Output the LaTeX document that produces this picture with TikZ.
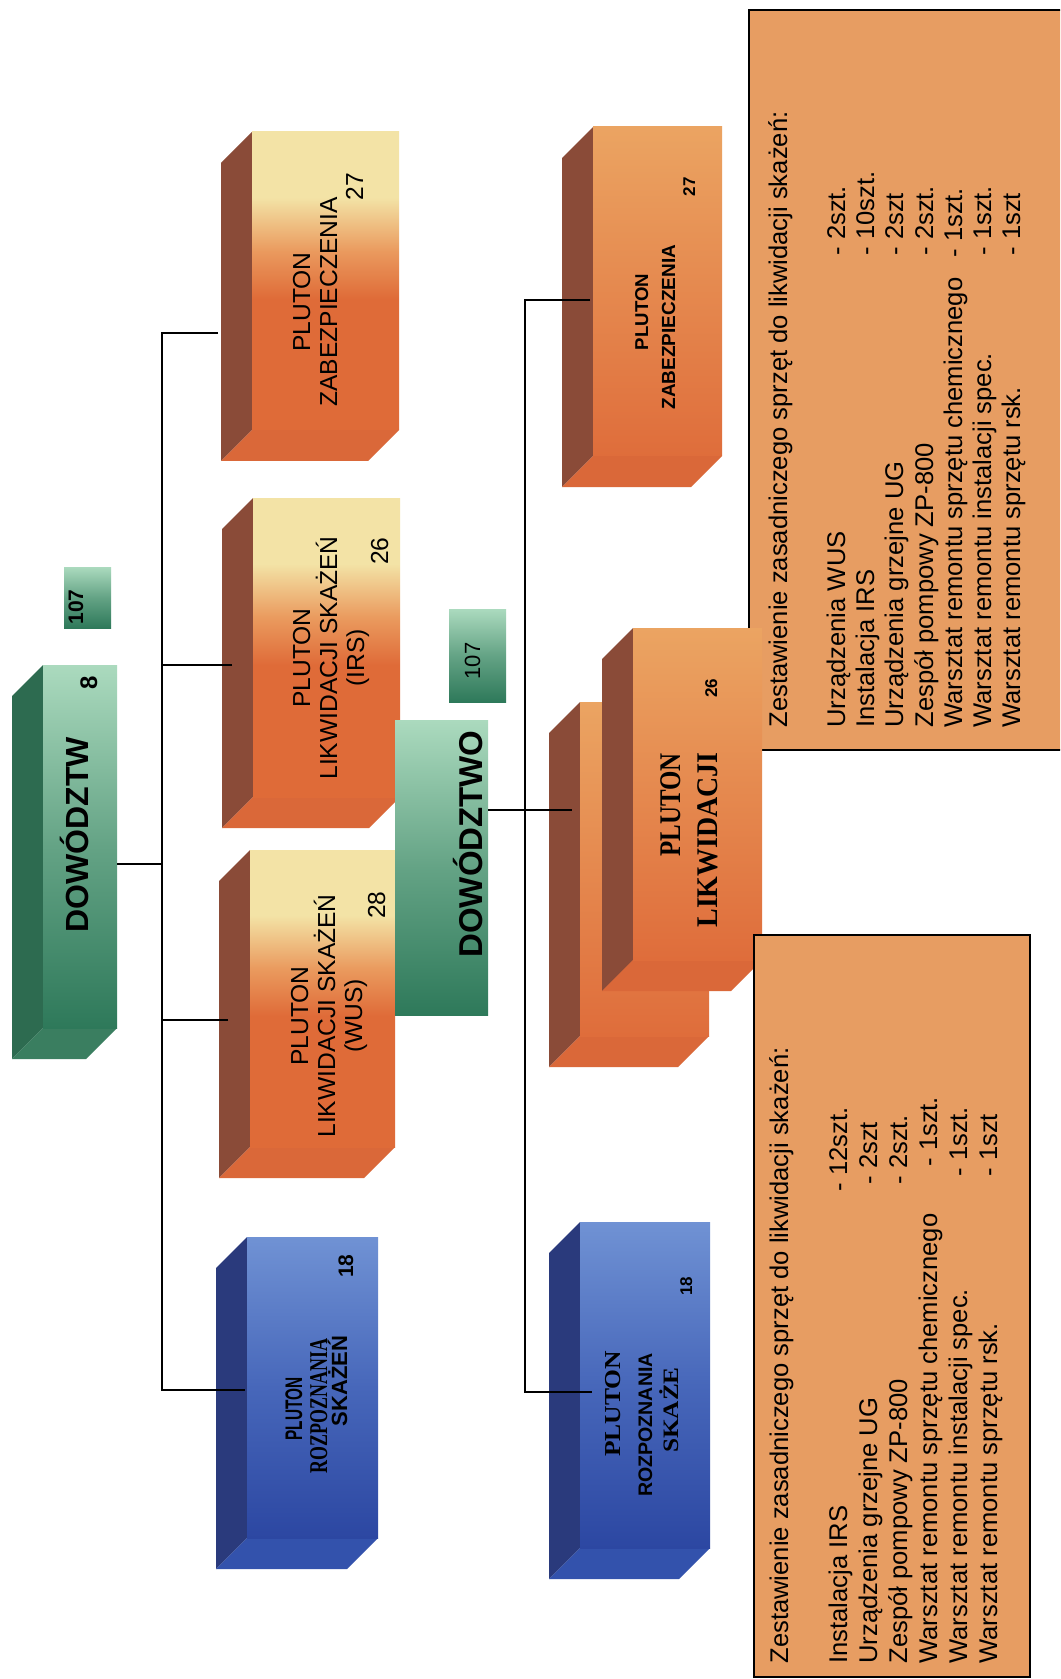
\documentclass[tikz,border=0pt]{standalone}
\usepackage{fontspec}
\usepackage{graphicx}
\setmainfont{Liberation Sans}
\newfontfamily\tms{Liberation Serif}
\usetikzlibrary{fit}
\definecolor{orL}{HTML}{F3E3A6}
\definecolor{orM}{HTML}{EA9A5E}
\definecolor{orD}{HTML}{DF6B38}
\definecolor{or2L}{HTML}{EBA462}
\definecolor{or2D}{HTML}{DF6D3B}
\definecolor{brownside}{HTML}{8A4B38}
\definecolor{orbot}{HTML}{DA6839}
\definecolor{grL}{HTML}{ABDABE}
\definecolor{grM}{HTML}{64A385}
\definecolor{grD}{HTML}{2E795A}
\definecolor{grside}{HTML}{2D6B50}
\definecolor{grbot}{HTML}{3A7E60}
\definecolor{blL}{HTML}{7092D4}
\definecolor{blM}{HTML}{4767BA}
\definecolor{blD}{HTML}{2C47A2}
\definecolor{blside}{HTML}{2A3A7C}
\definecolor{blbot}{HTML}{3352AC}
\definecolor{infofill}{HTML}{E79D62}
\pgfdeclareverticalshading{paleor}{100bp}{color(0bp)=(orD); color(25bp)=(orD); color(47bp)=(orD); color(55bp)=(orM); color(64bp)=(orL); color(75bp)=(orL); color(100bp)=(orL)}
\newcommand{\fs}[1]{\fontsize{#1}{#1}\selectfont}
% #1 name, #2 x1, #3 y1, #4 x2, #5 y2, #6 front style, #7 side colour, #8 bottom colour
\newcommand{\cubebox}[8]{%
  \fill[#7] (#2,#3) -- (#2-31,#3+31) -- (#2-31,#5+31) -- (#2,#5) -- cycle;
  \fill[#8] (#2,#5) -- (#4,#5) -- (#4-31,#5+31) -- (#2-31,#5+31) -- cycle;
  \node[fit={(#2,#3) (#4,#5)}, inner sep=0pt, outer sep=0pt, #6] (#1) {};
}
\begin{document}
\begin{tikzpicture}[x=0.5pt,y=-0.5pt,
  conn/.style={draw=black, line width=1pt},
  infobox/.style={draw=black, line width=1pt, fill=infofill, inner sep=0pt},
  palebox/.style={shade, shading=paleor},
  orbox/.style={top color=or2L, bottom color=or2D},
  grbox/.style={top color=grL, bottom color=grD, middle color=grM},
  blbox/.style={top color=blL, bottom color=blD, middle color=blM},
  txt/.style={rotate=90, inner sep=0pt, anchor=base},
  itxt/.style={rotate=90, inner sep=0pt, anchor=base west, font={\fs{12.8}}}]
\useasboundingbox (0,0) rectangle (1060,1679);
\fill[white] (0,0) rectangle (1060,1679);
\begin{scope}
\clip (0,0) rectangle (1060,1679);
% upper info box
\node[infobox, fit={(749,10) (1080,750)}] (info1) {};
% first column
\cubebox{zab1}{252}{132}{399}{430}{palebox}{brownside}{orbot}
\cubebox{irs1}{253}{498}{400}{797}{palebox}{brownside}{orbot}
\cubebox{wus1}{250}{850}{395}{1147}{palebox}{brownside}{orbot}
\cubebox{rozp1}{247}{1237}{378}{1538}{blbox}{blside}{blbot}
\cubebox{dow1}{43}{665}{117}{1028}{grbox}{grside}{grbot}
\node[grbox, fit={(64,567) (111,628)}, inner sep=0pt] (n107a) {};
\node[grbox, fit={(395,720) (488,1015)}, inner sep=0pt] (dow2) {};
\node[grbox, fit={(449,609) (506,702)}, inner sep=0pt] (n107b) {};
% second column
\cubebox{zab2}{593}{127}{722}{456}{orbox}{brownside}{orbot}
\cubebox{likwB}{580}{702}{709}{1036}{orbox}{brownside}{orbot}
\cubebox{likwA}{633}{628}{762}{960}{orbox}{brownside}{orbot}
\cubebox{rozp2}{580}{1222}{710}{1548}{blbox}{blside}{blbot}
% lower info box
\node[infobox, fit={(754,935) (1030,1677)}] (info2) {};
\end{scope}
% connectors
\coordinate (tr1) at (162,0);
\coordinate (tr2) at (525,0);
\coordinate (zab1-in) at (218,333);
\coordinate (irs1-in) at (232,665);
\coordinate (dow1-out) at (117,864);
\coordinate (wus1-in) at (228,1020);
\coordinate (rozp1-in) at (245,1390);
\coordinate (zab2-in) at (590,300);
\coordinate (dow2-out) at (488,810);
\coordinate (likw-in) at (572,810);
\coordinate (rozp2-in) at (592,1392);
\draw[conn] (zab1-in) -- (zab1-in -| tr1) -- (rozp1-in -| tr1) -- (rozp1-in);
\draw[conn] (irs1-in) -- (irs1-in -| tr1);
\draw[conn] (wus1-in) -- (wus1-in -| tr1);
\draw[conn] (dow1-out) -- (dow1-out -| tr1);
\draw[conn] (zab2-in) -- (zab2-in -| tr2) -- (rozp2-in -| tr2) -- (rozp2-in);
\draw[conn] (dow2-out) -- (likw-in);
% texts, first column
\node[txt, font={\fs{16}\bfseries}] (dow1-t) at (88,835) {DOWÓDZTW};
\node[txt, font={\fs{12}\bfseries}] (dow1-n) at (97,683) {8};
\node[txt, font={\fs{10.5}\bfseries}] (n107a-t) at (83,607) {107};
\node[txt, font={\fs{12.3}}] (zab1-t1) at (310,302) {PLUTON};
\node[txt, font={\fs{12.3}}] (zab1-t2) at (337,302) {ZABEZPIECZENIA};
\node[txt, font={\fs{12.3}}] (zab1-n) at (363,187) {27};
\node[txt, font={\fs{12.3}}] (irs1-t1) at (310,658) {PLUTON};
\node[txt, font={\fs{12.3}}] (irs1-t2) at (337,658) {LIKWIDACJI SKAŻEŃ};
\node[txt, font={\fs{12.3}}] (irs1-t3) at (364,658) {(IRS)};
\node[txt, font={\fs{12.3}}] (irs1-n) at (388,551) {26};
\node[txt, font={\fs{12.3}}] (wus1-t1) at (308,1016) {PLUTON};
\node[txt, font={\fs{12.3}}] (wus1-t2) at (335,1016) {LIKWIDACJI SKAŻEŃ};
\node[txt, font={\fs{12.3}}] (wus1-t3) at (362,1016) {(WUS)};
\node[txt, font={\fs{12.3}}] (wus1-n) at (385,905) {28};
\node[txt, font={\fs{12}\bfseries}] (rozp1-t1) at (302,1409) {\scalebox{0.64}[1]{PLUTON}};
\node[txt, font={\fs{12.8}\tms\bfseries}] (rozp1-t2) at (327,1406) {\scalebox{0.7}[1]{ROZPOZNANIA}};
\node[txt, font={\fs{11}\bfseries}] (rozp1-t3) at (347,1381) {SKAŻEŃ};
\node[txt, font={\fs{10.5}\bfseries}] (rozp1-n) at (353,1266) {18};
% texts, second column
\node[txt, font={\fs{16.5}\bfseries}] (dow2-t) at (482,844) {DOWÓDZTWO};
\node[txt, font={\fs{11}}] (n107b-t) at (480,661) {107};
\node[txt, font={\fs{9.3}\bfseries}] (zab2-t1) at (648,312) {PLUTON};
\node[txt, font={\fs{9.5}\bfseries}] (zab2-t2) at (675,327) {ZABEZPIECZENIA};
\node[txt, font={\fs{8.5}\bfseries}] (zab2-n) at (695,187) {27};
\node[txt, font={\fs{15}\tms\bfseries}] (likw-t1) at (680,805) {\scalebox{0.83}[1]{PLUTON}};
\node[txt, font={\fs{15}\tms\bfseries}] (likw-t2) at (717,840) {\scalebox{0.93}[1]{LIKWIDACJI}};
\node[txt, font={\fs{8.5}\bfseries}] (likw-n) at (717,688) {26};
\node[txt, font={\fs{11.4}\tms\bfseries}] (rozp2-t1) at (620,1404) {\scalebox{1.12}[1]{PLUTON}};
\node[txt, font={\fs{9.8}\bfseries}] (rozp2-t2) at (652,1425) {ROZPOZNANIA};
\node[txt, font={\fs{11}\tms\bfseries}] (rozp2-t3) at (678,1410) {\scalebox{1.15}[1]{SKAŻE}};
\node[txt, font={\fs{8.5}\bfseries}] (rozp2-n) at (692,1286) {18};
% upper info text
\node[itxt] (i1h) at (787,728) {Zestawienie zasadniczego sprzęt do likwidacji skażeń:};
\node[itxt] (i1a) at (845,728) {Urządzenia WUS};
\node[itxt] (i1b) at (874,728) {Instalacja IRS};
\node[itxt] (i1c) at (903,728) {Urządzenia grzejne UG};
\node[itxt] (i1d) at (933,728) {Zespół pompowy ZP-800};
\node[itxt] (i1e) at (962,728) {Warsztat remontu sprzętu chemicznego};
\node[itxt] (i1f) at (991,728) {Warsztat remontu instalacji spec.};
\node[itxt] (i1g) at (1020,728) {Warsztat remontu sprzętu rsk.};
\node[itxt] (i1aq) at (845,256) {- 2szt.};
\node[itxt] (i1bq) at (874,256) {- 10szt.};
\node[itxt] (i1cq) at (903,256) {- 2szt};
\node[itxt] (i1dq) at (933,256) {- 2szt.};
\node[itxt] (i1eq) at (962,258) {- 1szt.};
\node[itxt] (i1fq) at (991,256) {- 1szt.};
\node[itxt] (i1gq) at (1020,256) {- 1szt};
% lower info text
\node[itxt] (i2h) at (788,1664) {Zestawienie zasadniczego sprzęt do likwidacji skażeń:};
\node[itxt] (i2a) at (847,1664) {Instalacja IRS};
\node[itxt] (i2b) at (877,1664) {Urządzenia grzejne UG};
\node[itxt] (i2c) at (907,1664) {Zespół pompowy ZP-800};
\node[itxt] (i2d) at (937,1664) {Warsztat remontu sprzętu chemicznego};
\node[itxt] (i2e) at (967,1664) {Warsztat remontu instalacji spec.};
\node[itxt] (i2f) at (997,1664) {Warsztat remontu sprzętu rsk.};
\node[itxt] (i2aq) at (847,1192) {- 12szt.};
\node[itxt] (i2bq) at (877,1185) {- 2szt};
\node[itxt] (i2cq) at (907,1185) {- 2szt.};
\node[itxt] (i2dq) at (937,1167) {- 1szt.};
\node[itxt] (i2eq) at (967,1177) {- 1szt.};
\node[itxt] (i2fq) at (997,1177) {- 1szt};
\end{tikzpicture}
\end{document}
